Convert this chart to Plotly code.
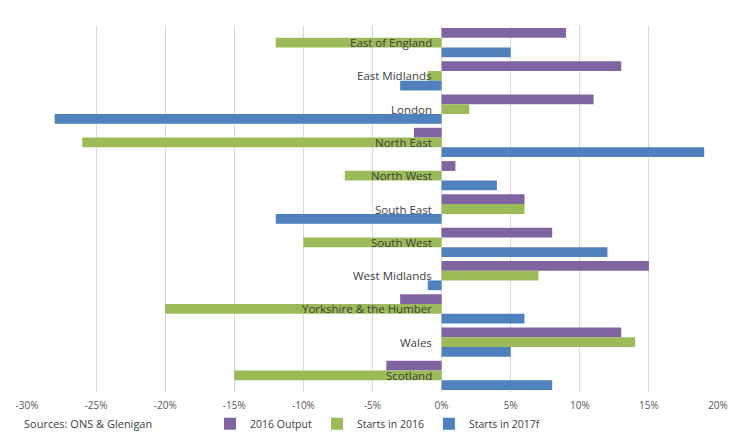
import plotly.graph_objects as go

regions = ["East of England", "East Midlands", "London", "North East", "North West",
           "South East", "South West", "West Midlands", "Yorkshire & the Humber",
           "Wales", "Scotland"]
output_2016 = [9, 13, 11, -2, 1, 6, 8, 15, -3, 13, -4]
starts_2016 = [-12, -1, 2, -26, -7, 6, -10, 7, -20, 14, -15]
starts_2017f = [5, -3, -28, 19, 4, -12, 12, -1, 6, 5, 8]

tick_vals = [-30, -25, -20, -15, -10, -5, 0, 5, 10, 15, 20]
tick_text = ["-30%", "-25%", "-20%", "-15%", "-10%", "-5%", "0%", "5%", "10%", "15%", "20%"]

series = [
    ("2016 Output", output_2016, "#8064A2"),
    ("Starts in 2016", starts_2016, "#9BBB59"),
    ("Starts in 2017f", starts_2017f, "#4F81BD"),
]

FONT = "Open Sans, Liberation Sans, sans-serif"

fig = go.Figure()
for name, vals, color in series:
    fig.add_trace(go.Bar(y=regions, x=vals, name=name, orientation="h",
                         marker=dict(color=color, line=dict(width=0))))

for r in regions:
    fig.add_annotation(x=0, y=r, xref="x", yref="y", text=r, showarrow=False,
                       xanchor="right", yanchor="middle", xshift=-8,
                       font=dict(family=FONT, size=11.5, color="#404040"))

fig.add_annotation(x=-0.007, y=-0.087, xref="paper", yref="paper", text="Sources: ONS & Glenigan",
                   showarrow=False, xanchor="left", yanchor="middle",
                   font=dict(family=FONT, size=11, color="#404040"))

# page body has an 8px default margin, so the figure is sized to fit the window
fig.update_layout(
    width=742, height=436,
    margin=dict(l=19, r=32, t=18, b=52, autoexpand=False),
    paper_bgcolor="white", plot_bgcolor="white",
    barmode="group", bargap=0.12, bargroupgap=0,
    showlegend=True,
    legend=dict(orientation="h", x=0.508, xanchor="center", y=-0.087, yanchor="middle",
                font=dict(family=FONT, size=10.5, color="#404040"),
                itemwidth=30, traceorder="normal"),
    xaxis=dict(range=[-30, 20], tickvals=tick_vals, ticktext=tick_text,
               showgrid=True, gridcolor="#d9d9d9", gridwidth=1,
               zeroline=True, zerolinecolor="#d9d9d9", zerolinewidth=1,
               showline=False, ticks="", automargin=False, ticklabelstandoff=6,
               tickfont=dict(family=FONT, size=10, color="#595959")),
    yaxis=dict(autorange="reversed", showticklabels=False, showgrid=False,
               zeroline=False, showline=False, ticks="", automargin=False),
)

fig.write_html("out.html")
